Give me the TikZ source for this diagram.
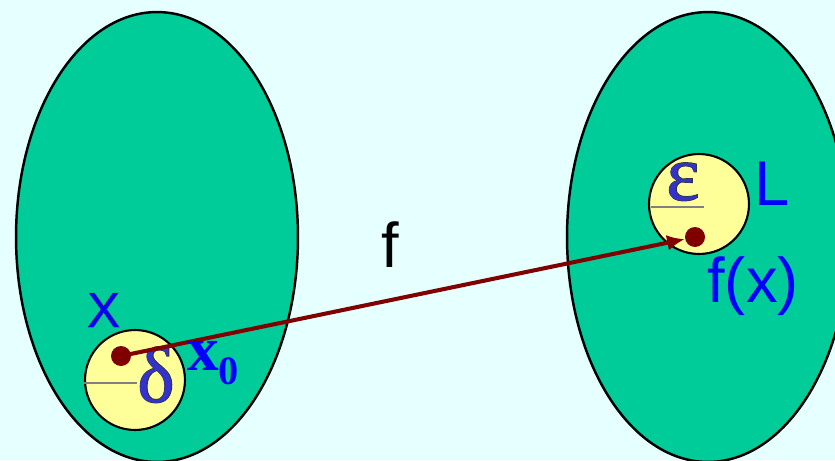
\documentclass[tikz,border=0pt]{standalone}
\usepackage{fontspec}
\setmainfont{Liberation Sans}
\newfontfamily\grkfont{Liberation Serif}
\newfontfamily\grkedge[FakeBold=1.6]{Liberation Serif}
\newfontfamily\sansedge[FakeBold=1.6]{Liberation Sans}
\usetikzlibrary{positioning, arrows.meta, shapes.geometric, calc}
\definecolor{lmbg}{HTML}{E6FFFF}
\definecolor{lmset}{HTML}{00CC99}
\definecolor{lmball}{HTML}{FFFF99}
\definecolor{lmdot}{HTML}{800000}
\definecolor{lmblue}{HTML}{0000FF}
\definecolor{lmgreek}{HTML}{3333CC}
% letter with a dark rim
\newcommand{\rimgrk}[1]{\rlap{\color{black!80}\grkedge #1}#1}
\newcommand{\rimsans}[1]{\rlap{\color{black!70}\sansedge #1}#1}

\begin{document}
\begin{tikzpicture}[
          x=0.02cm, y=-0.02cm,
          setbody/.style={ellipse, draw=black, line width=1.4pt, fill=lmset,
            minimum width=5.64cm, minimum height=9cm, inner sep=0pt},
          ballbody/.style={circle, draw=black, line width=1.2pt, fill=lmball,
            minimum size=2cm, inner sep=0pt},
          ptdot/.style={circle, fill=lmdot, minimum size=0.4cm, inner sep=0pt},
          radius line/.style={draw=gray, line width=1.3pt},
          bluelabel/.style={text=lmblue, inner sep=0pt},
          greeklabel/.style={text=lmgreek, inner sep=0pt, font=\grkfont\fontsize{45}{45}\selectfont},
        ]
        \useasboundingbox (0,0) rectangle (835,460);
        \clip (0,0) rectangle (835,460);
        \fill[lmbg] (0,0) rectangle (835,460);

        % Domain and codomain
        \node[setbody] (dom) at (157,237) {};
        \node[setbody] (cod) at (708,237) {};

        % Neighbourhoods
        \node[ballbody] (nbhd) at (135,380) {};
        \node[ballbody] (epsball) at (699,204) {};
        \draw[radius line] ($(nbhd.west)+(0,3)$) -- ++(53,0);
        \draw[radius line] ($(epsball.west)+(3,3)$) -- ++(53,0);
        \node[greeklabel, anchor=base] (delta) at (156,402) {\rimgrk{δ}};
        \node[greeklabel, anchor=base] (eps) at (683,200) {\rimgrk{ε}};

        % Points and the map
        \node[ptdot] (x0dot) at (121,356) {};
        \node[ptdot] (fxdot) at (695,237) {};
        \draw[lmdot, line width=2.3pt, -{Latex[length=10pt, width=9pt]}]
          (x0dot.center) -- ($(fxdot.center)!6pt!(x0dot.center)$);

        % Labels
        \node[bluelabel, anchor=base west, font=\fontsize{28}{28}\selectfont] (xlab) at (87,327) {\rimsans{X}};
        \node[bluelabel, anchor=base west, font=\grkfont\bfseries\fontsize{36}{36}\selectfont] (x0lab) at (187,370)
          {x\raisebox{-8.5pt}{\fontsize{23}{23}\selectfont 0}};
        \node[bluelabel, anchor=base west, font=\fontsize{36}{36}\selectfont] (llab) at (754,205) {L};
        \node[bluelabel, anchor=base west, font=\fontsize{36}{36}\selectfont] (fxlab) at (707,302) {f(x)};
        \node[anchor=base west, inner sep=0pt, font=\fontsize{36}{36}\selectfont] (flab) at (381,267) {f};
      \end{tikzpicture}
\end{document}
